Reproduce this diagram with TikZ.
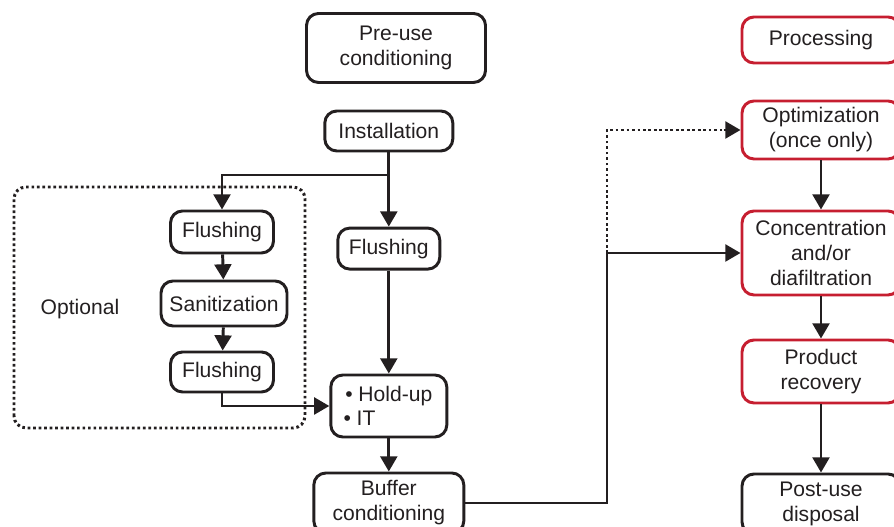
\documentclass[tikz,border=0pt]{standalone}
\usepackage{fontspec}
\setmainfont{Liberation Sans}
\usepackage{xcolor}
\usepackage{tikz}
\usetikzlibrary{arrows.meta, positioning}
\definecolor{procred}{RGB}{198,30,48}
\definecolor{ink}{RGB}{35,31,32}

\begin{document}
\begin{tikzpicture}[
  stepbox/.style={draw=ink, line width=2.1pt, rounded corners=0.3cm, align=center,
    text=ink, font=\fontsize{15pt}{17.8pt}\selectfont, inner sep=0pt},
  redbox/.style={stepbox, draw=procred, minimum width=3.95cm},
  arr/.style={draw=ink, line width=2.1pt, -{Triangle[length=0.38cm,width=0.42cm]}},
  dots/.style={draw=ink, line width=2.1pt, dash pattern=on 1.9pt off 2pt}
]
\useasboundingbox (0,0) rectangle (22.35,13.175);

% Pre-use column
\node[stepbox, minimum width=4.475cm, minimum height=1.725cm] (preuse) at (9.9, 11.975) {Pre-use\\conditioning};
\node[stepbox, minimum width=3.2cm, minimum height=1cm] (inst) at (9.72, 9.9) {Installation};
\node[stepbox, minimum width=2.55cm, minimum height=1.025cm] (flushM) at (9.72, 6.96) {Flushing};
\node[stepbox, minimum width=2.9cm, minimum height=1.55cm] (hold) at (9.72, 3.025) {\textbullet\ Hold-up\\[-1pt]\textbullet\ IT\hphantom{old-up}};
\node[stepbox, minimum width=3.75cm, minimum height=1.5cm] (buffer) at (9.72, 0.6) {Buffer\\conditioning};

% Optional part
\node[stepbox, minimum width=2.575cm, minimum height=1.05cm] (flushA) at (5.55, 7.375) {Flushing};
\node[stepbox, minimum width=3.15cm, minimum height=1.125cm] (sanit) at (5.6, 5.5875) {Sanitization};
\node[stepbox, minimum width=2.575cm, minimum height=1cm] (flushB) at (5.55, 3.875) {Flushing};
\node[text=ink, font=\fontsize{15pt}{17.8pt}\selectfont] (optlabel) at (2.0, 5.45) {Optional};
\draw[dots, rounded corners=0.3cm] (0.35, 2.475) rectangle (7.625, 8.5);

% Processing column
\node[redbox, minimum height=1.15cm] (proc) at (20.525, 12.175) {Processing};
\node[redbox, minimum height=1.45cm] (opt) at (20.525, 9.925) {Optimization\\(once only)};
\node[redbox, minimum height=2.1cm] (conc) at (20.525, 6.85) {Concentration\\and/or\\diafiltration};
\node[redbox, minimum height=1.575cm] (recov) at (20.525, 3.8875) {Product\\recovery};
\node[stepbox, minimum width=3.95cm, minimum height=1.5cm] (post) at (20.525, 0.575) {Post-use\\disposal};

% Connectors
\coordinate (fork) at (9.72, 8.8);
\coordinate (merge) at (15.175, 6.85);
\draw[draw=ink, line width=2.1pt] (inst) -- (fork);
\draw[arr] (fork) -- (flushM);
\draw[arr] (fork) -| (flushA);
\draw[arr] (flushA) -- (sanit);
\draw[arr] (sanit) -- (flushB);
\draw[arr] (flushB.south) |- (hold.west);
\draw[arr] (flushM) -- (hold);
\draw[arr] (hold) -- (buffer);
\draw[arr] (buffer.east) -| (merge) -- (conc.west);
\draw[dots] (merge) |- ([xshift=-0.38cm]opt.west);
\draw[arr] ([xshift=-0.42cm]opt.west) -- (opt.west);
\draw[arr] (opt) -- (conc);
\draw[arr] (conc) -- (recov);
\draw[arr] (recov) -- (post);
\end{tikzpicture}
\end{document}
